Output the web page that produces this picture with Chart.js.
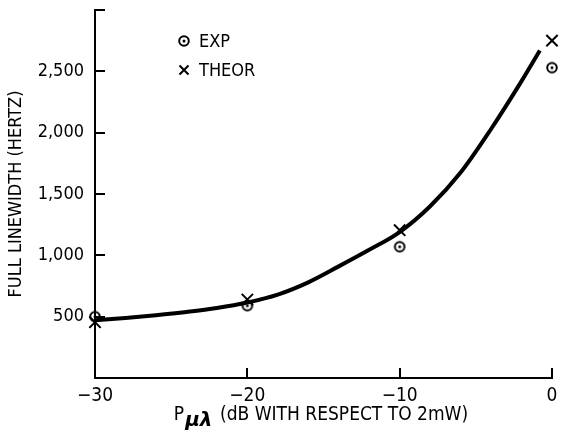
<!DOCTYPE html>
<html>
<head>
<meta charset="utf-8">
<script src="https://cdn.jsdelivr.net/npm/chart.js@4/dist/chart.umd.min.js"></script>
<style>
  html, body { margin: 0; padding: 0; background: #fff; }
  #wrap { width: 562px; height: 441px; }
</style>
</head>
<body>
<div id="wrap"><canvas id="myChart" width="562" height="441"></canvas></div>
<script>
'use strict';

// values
const powerDb = [-30, -20, -10, 0];
const expWidth = [500, 590, 1070, 2530];
const theorWidth = [455, 640, 1205, 2750];
const curveDb = [-30, -28, -26, -24, -22, -20, -18, -16, -14, -12, -10, -8, -6, -4, -2, -0.8];
const curveWidth = [470, 490, 512, 538, 570, 615, 680, 780, 910, 1045, 1190, 1400, 1675, 2030, 2420, 2670];
const xTickValues = [-30, -20, -10, 0];
const yTickValues = [500, 1000, 1500, 2000, 2500];

const FONT = '"DejaVu Sans Condensed", "DejaVu Sans", sans-serif';

function ringDot() {
  const c = document.createElement('canvas');
  c.width = 14; c.height = 14;
  const g = c.getContext('2d');
  g.strokeStyle = '#000';
  g.lineWidth = 2;
  g.beginPath();
  g.arc(7, 7, 4.8, 0, Math.PI * 2);
  g.stroke();
  g.fillStyle = '#000';
  g.beginPath();
  g.arc(7, 7, 1.5, 0, Math.PI * 2);
  g.fill();
  return c;
}
const expMarker = ringDot();

const pairs = (xs, ys) => xs.map((x, i) => ({x: x, y: ys[i]}));

// keep the plot box fixed: no room reserved for overhanging tick labels
function noPad(scale) {
  scale.paddingLeft = 0;
  scale.paddingRight = 0;
  scale.paddingTop = 0;
  scale.paddingBottom = 0;
}

// legend drawn inside the plot, stacked
const innerLegend = {
  id: 'innerLegend',
  afterDraw(chart) {
    const ctx = chart.ctx;
    ctx.save();
    ctx.font = '18px ' + FONT;
    ctx.fillStyle = '#000';
    ctx.textBaseline = 'middle';
    ctx.textAlign = 'left';
    [1, 2].forEach((di, k) => {
      const ds = chart.data.datasets[di];
      const cx = 184, cy = 41 + k * 29;
      if (ds.pointStyle === 'crossRot') {
        ctx.strokeStyle = '#000';
        ctx.lineWidth = 2;
        ctx.beginPath();
        ctx.moveTo(cx - 4.5, cy - 4.5); ctx.lineTo(cx + 4.5, cy + 4.5);
        ctx.moveTo(cx + 4.5, cy - 4.5); ctx.lineTo(cx - 4.5, cy + 4.5);
        ctx.stroke();
      } else {
        ctx.drawImage(ds.pointStyle, cx - 7, cy - 7);
      }
      ctx.fillText(ds.label, cx + 15, cy + 1);
    });
    ctx.restore();
  }
};

// x title with the subscript
const xTitle = {
  id: 'xTitle',
  afterDraw(chart) {
    const ctx = chart.ctx;
    const area = chart.chartArea;
    ctx.save();
    ctx.fillStyle = '#000';
    ctx.textBaseline = 'alphabetic';
    ctx.textAlign = 'left';
    const fMain = '19px ' + FONT;
    const fSub = 'bold italic 20px "DejaVu Sans", sans-serif';
    const rest = ' (dB WITH RESPECT TO 2mW)';
    ctx.font = fMain;
    const wP = ctx.measureText('P').width;
    const wR = ctx.measureText(rest).width;
    ctx.font = fSub;
    const wS = ctx.measureText('\u03bc\u03bb').width + 2;
    let x = (area.left + area.right) / 2 - (wP + wS + wR) / 2 - 3;
    const base = 420;
    ctx.font = fMain;
    ctx.fillText('P', x, base);
    x += wP + 1;
    ctx.font = fSub;
    ctx.fillText('\u03bc\u03bb', x, base + 6);
    x += wS;
    ctx.font = fMain;
    ctx.fillText(rest, x, base);
    ctx.restore();
  }
};

const ctxEl = document.getElementById('myChart');
const chart = new Chart(ctxEl, {
  type: 'scatter',
  data: {
    datasets: [
      {
        label: 'curve',
        type: 'line',
        data: pairs(curveDb, curveWidth),
        borderColor: '#000',
        borderWidth: 4,
        pointRadius: 0,
        cubicInterpolationMode: 'monotone',
        fill: false,
        clip: false
      },
      {
        label: 'EXP',
        data: pairs(powerDb, expWidth),
        pointStyle: expMarker,
        pointRadius: 7,
        clip: false
      },
      {
        label: 'THEOR',
        data: pairs(powerDb, theorWidth),
        pointStyle: 'crossRot',
        pointRadius: 8,
        borderColor: '#000',
        borderWidth: 2,
        clip: false
      }
    ]
  },
  options: {
    responsive: false,
    animation: false,
    layout: { padding: { top: 9, right: 5, left: 0, bottom: 0 } },
    plugins: {
      legend: { display: false },
      tooltip: { enabled: false }
    },
    scales: {
      x: {
        type: 'linear',
        position: 'bottom',
        min: -30,
        max: 0,
        afterBuildTicks: scale => { scale.ticks = xTickValues.map(v => ({value: v})); },
        afterFit: scale => { scale.height = 63; noPad(scale); },
        ticks: {
          color: '#000',
          font: { family: FONT, size: 19 },
          padding: 17,
          callback: v => v < 0 ? '\u2212' + Math.abs(v) : String(v)
        },
        grid: {
          drawOnChartArea: false,
          drawTicks: true,
          tickLength: -10,
          color: '#000',
          lineWidth: 2
        },
        border: { color: '#000', width: 2 }
      },
      y: {
        type: 'linear',
        position: 'left',
        min: 0,
        max: 3000,
        afterBuildTicks: scale => { scale.ticks = [0].concat(yTickValues, [3000]).map(v => ({value: v})); },
        afterFit: scale => { scale.width = 95; noPad(scale); },
        ticks: {
          color: '#000',
          font: { family: FONT, size: 18 },
          padding: 21,
          callback: v => (yTickValues.indexOf(v) >= 0 ? v.toLocaleString('en-US') : '')
        },
        grid: {
          drawOnChartArea: false,
          drawTicks: true,
          tickLength: -10,
          color: '#000',
          lineWidth: 2
        },
        border: { color: '#000', width: 2 },
        title: {
          display: true,
          text: 'FULL LINEWIDTH (HERTZ)',
          color: '#000',
          font: { family: FONT, size: 18 },
          padding: { top: 6, bottom: 0 }
        }
      }
    }
  },
  plugins: [innerLegend, xTitle]
});
</script>
</body>
</html>
